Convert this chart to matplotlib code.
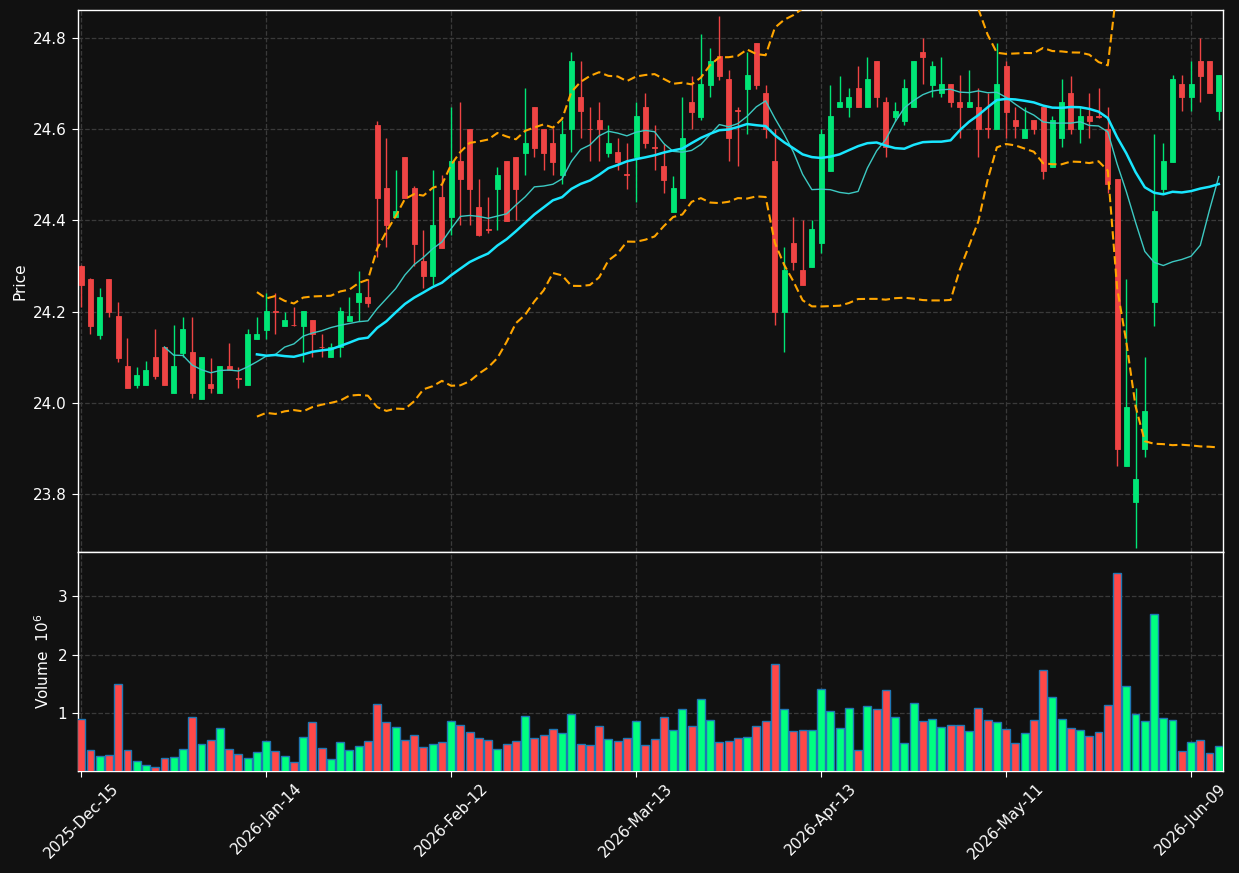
import matplotlib
matplotlib.use("Agg")
import matplotlib.pyplot as plt
import numpy as np
import pandas as pd

# ---------------- data ----------------
opens = [24.300, 24.271, 24.149, 24.271, 24.190, 24.080, 24.039, 24.039, 24.100, 24.123,
         24.020, 24.110, 24.111, 24.009, 24.041, 24.020, 24.080, 24.053, 24.039, 24.140,
         24.160, 24.202, 24.169, 24.171, 24.169, 24.182, 24.122, 24.100, 24.121, 24.180,
         24.220, 24.232, 24.610, 24.471, 24.408, 24.539, 24.471, 24.311, 24.279, 24.451,
         24.408, 24.531, 24.601, 24.430, 24.381, 24.470, 24.531, 24.539, 24.549, 24.649,
         24.601, 24.570, 24.500, 24.600, 24.670, 24.601, 24.620, 24.549, 24.550, 24.501,
         24.539, 24.649, 24.561, 24.520, 24.419, 24.450, 24.659, 24.628, 24.698, 24.760,
         24.711, 24.642, 24.689, 24.790, 24.680, 24.530, 24.200, 24.350, 24.291, 24.298,
         24.350, 24.509, 24.648, 24.648, 24.691, 24.648, 24.750, 24.660, 24.628, 24.619,
         24.648, 24.770, 24.698, 24.679, 24.700, 24.659, 24.648, 24.648, 24.602, 24.600,
         24.739, 24.621, 24.580, 24.621, 24.650, 24.518, 24.580, 24.680, 24.600, 24.629,
         24.629, 24.600, 24.491, 23.860, 23.781, 23.899, 24.220, 24.470, 24.529, 24.700,
         24.670, 24.749, 24.749, 24.640]
highs = [24.302, 24.273, 24.251, 24.272, 24.220, 24.141, 24.079, 24.091, 24.162, 24.123,
         24.170, 24.189, 24.189, 24.100, 24.099, 24.080, 24.130, 24.079, 24.162, 24.189,
         24.240, 24.240, 24.200, 24.209, 24.201, 24.182, 24.150, 24.130, 24.209, 24.231,
         24.290, 24.271, 24.619, 24.580, 24.511, 24.539, 24.475, 24.380, 24.511, 24.500,
         24.648, 24.659, 24.601, 24.490, 24.451, 24.518, 24.531, 24.539, 24.690, 24.649,
         24.601, 24.602, 24.621, 24.769, 24.750, 24.649, 24.659, 24.609, 24.580, 24.569,
         24.659, 24.679, 24.609, 24.568, 24.498, 24.670, 24.718, 24.809, 24.779, 24.849,
         24.730, 24.648, 24.769, 24.790, 24.698, 24.600, 24.341, 24.408, 24.401, 24.401,
         24.600, 24.698, 24.718, 24.690, 24.739, 24.758, 24.750, 24.670, 24.660, 24.711,
         24.750, 24.800, 24.750, 24.758, 24.700, 24.719, 24.730, 24.690, 24.679, 24.789,
         24.749, 24.650, 24.648, 24.621, 24.650, 24.629, 24.711, 24.718, 24.649, 24.679,
         24.690, 24.649, 24.491, 24.271, 24.032, 24.100, 24.590, 24.570, 24.719, 24.719,
         24.749, 24.800, 24.749, 24.719]
lows = [24.209, 24.150, 24.140, 24.189, 24.090, 24.031, 24.031, 24.039, 24.051, 24.039,
        24.020, 24.101, 24.010, 24.009, 24.020, 24.020, 24.072, 24.031, 24.039, 24.140,
        24.140, 24.150, 24.169, 24.169, 24.090, 24.100, 24.100, 24.100, 24.100, 24.180,
        24.180, 24.209, 24.320, 24.342, 24.408, 24.450, 24.299, 24.251, 24.258, 24.340,
        24.368, 24.390, 24.390, 24.365, 24.372, 24.380, 24.399, 24.400, 24.500, 24.539,
        24.511, 24.500, 24.480, 24.550, 24.580, 24.531, 24.531, 24.539, 24.511, 24.470,
        24.440, 24.560, 24.511, 24.460, 24.419, 24.450, 24.600, 24.621, 24.670, 24.708,
        24.530, 24.520, 24.589, 24.689, 24.580, 24.170, 24.111, 24.291, 24.258, 24.298,
        24.328, 24.509, 24.648, 24.628, 24.648, 24.648, 24.648, 24.540, 24.618, 24.610,
        24.648, 24.700, 24.670, 24.670, 24.650, 24.580, 24.648, 24.540, 24.580, 24.600,
        24.580, 24.580, 24.580, 24.589, 24.490, 24.518, 24.561, 24.590, 24.570, 24.580,
        24.625, 24.461, 23.860, 23.860, 23.681, 23.881, 24.169, 24.461, 24.529, 24.640,
        24.640, 24.660, 24.679, 24.620]
closes = [24.259, 24.169, 24.232, 24.200, 24.099, 24.031, 24.061, 24.072, 24.059, 24.039,
          24.080, 24.162, 24.020, 24.100, 24.031, 24.080, 24.072, 24.051, 24.151, 24.151,
          24.201, 24.200, 24.182, 24.170, 24.201, 24.150, 24.121, 24.121, 24.201, 24.190,
          24.240, 24.219, 24.450, 24.389, 24.421, 24.450, 24.349, 24.279, 24.390, 24.340,
          24.531, 24.490, 24.470, 24.368, 24.379, 24.500, 24.399, 24.470, 24.570, 24.560,
          24.549, 24.529, 24.590, 24.750, 24.640, 24.600, 24.600, 24.570, 24.529, 24.500,
          24.629, 24.569, 24.560, 24.489, 24.471, 24.581, 24.639, 24.700, 24.749, 24.718,
          24.580, 24.640, 24.719, 24.698, 24.600, 24.200, 24.291, 24.309, 24.258, 24.381,
          24.590, 24.629, 24.660, 24.671, 24.648, 24.711, 24.670, 24.562, 24.640, 24.691,
          24.750, 24.758, 24.739, 24.700, 24.659, 24.648, 24.659, 24.600, 24.600, 24.700,
          24.639, 24.608, 24.600, 24.600, 24.509, 24.621, 24.660, 24.600, 24.629, 24.619,
          24.628, 24.479, 23.899, 23.990, 23.833, 23.982, 24.421, 24.530, 24.711, 24.670,
          24.700, 24.718, 24.679, 24.719]
volumes_m = [0.909, 0.379, 0.276, 0.293, 1.507, 0.379, 0.191, 0.123, 0.088, 0.242,
             0.259, 0.396, 0.943, 0.482, 0.550, 0.755, 0.396, 0.311, 0.242, 0.345,
             0.533, 0.362, 0.276, 0.174, 0.601, 0.858, 0.413, 0.225, 0.516, 0.379,
             0.447, 0.533, 1.165, 0.858, 0.772, 0.550, 0.636, 0.430, 0.482, 0.516,
             0.875, 0.806, 0.687, 0.584, 0.550, 0.396, 0.482, 0.533, 0.960, 0.584,
             0.636, 0.738, 0.670, 0.994, 0.482, 0.465, 0.789, 0.567, 0.533, 0.584,
             0.875, 0.465, 0.567, 0.943, 0.721, 1.080, 0.789, 1.251, 0.892, 0.516,
             0.533, 0.584, 0.601, 0.789, 0.875, 1.849, 1.080, 0.704, 0.721, 0.721,
             1.422, 1.046, 0.755, 1.097, 0.379, 1.131, 1.080, 1.405, 0.943, 0.499,
             1.183, 0.875, 0.909, 0.772, 0.806, 0.806, 0.704, 1.097, 0.892, 0.858,
             0.738, 0.499, 0.670, 0.892, 1.747, 1.285, 0.909, 0.755, 0.721, 0.618,
             0.687, 1.148, 3.388, 1.473, 0.994, 0.875, 2.687, 0.926, 0.892, 0.362,
             0.516, 0.550, 0.328, 0.447]
tick_labels = ["2025-Dec-15", "2026-Jan-14", "2026-Feb-12", "2026-Mar-13",
               "2026-Apr-13", "2026-May-11", "2026-Jun-09"]
tick_step = 20

# ---------------- style ----------------
BG = "#111111"
UP = "#00e676"
DOWN = "#ef4444"
VUP = "#00ff80"
VDOWN = "#ff4848"
GRID = "#3a3a3a"

o = np.array(opens); h = np.array(highs); l = np.array(lows); c = np.array(closes)
v = np.array(volumes_m)
n = len(c)
x = np.arange(n)
up = c >= o
ccol = np.where(up, UP, DOWN)
vcol = np.where(up, VUP, VDOWN)

cs = pd.Series(c)
ma10 = cs.rolling(10).mean()
ma20 = cs.rolling(20).mean()
sd20 = cs.rolling(20).std(ddof=0)
bb_up = ma20 + 2 * sd20
bb_lo = ma20 - 2 * sd20

fig = plt.figure(figsize=(12.39, 8.73), dpi=100, facecolor=BG)
L, W = 77.5 / 1239, (1222.5 - 77.5) / 1239
axp = fig.add_axes([L, 1 - 552 / 873, W, (552 - 10) / 873])
axv = fig.add_axes([L, 1 - 770.5 / 873, W, (770.5 - 552) / 873], sharex=axp)

for ax in (axp, axv):
    ax.set_facecolor(BG)
    for s in ax.spines.values():
        s.set_color("white")
        s.set_linewidth(1.0)
    ax.tick_params(colors="white", labelsize=11, length=4)
    ax.grid(True, color=GRID, linestyle="--", linewidth=0.9)
    ax.set_axisbelow(True)

# candles
axp.vlines(x, l, h, colors=ccol, linewidth=1.0, zorder=2)
axp.bar(x, np.abs(c - o), bottom=np.minimum(o, c), width=0.55, color=ccol,
        edgecolor=ccol, linewidth=0.6, zorder=3)

# indicators
axp.plot(x, ma10, color="#3cc9c2", linewidth=1.0, zorder=4)
axp.plot(x, ma20, color="#19e6ff", linewidth=1.8, zorder=4)
axp.plot(x, bb_up, color="#ffa500", linewidth=1.5, linestyle=(0, (4, 2)), zorder=4)
axp.plot(x, bb_lo, color="#ffa500", linewidth=1.5, linestyle=(0, (4, 2)), zorder=4)

axp.set_ylim(23.672, 24.862)
axp.set_yticks([23.8, 24.0, 24.2, 24.4, 24.6, 24.8])
axp.set_ylabel("Price", color="white", fontsize=11)
axp.tick_params(axis="x", labelbottom=False)

# volume
axv.bar(x, v, width=0.85, color=vcol, edgecolor="#1f77b4", linewidth=1.0, zorder=3)
axv.set_ylim(0.026, 3.752)
axv.set_yticks([1, 2, 3])
axv.set_ylabel("Volume  $10^{6}$", color="white", fontsize=11)

ticks = list(range(0, n, tick_step))[:len(tick_labels)]
axv.set_xticks(ticks)
axv.set_xticklabels(tick_labels, rotation=45, fontsize=11, color="white")
axv.set_xlim(-0.4, 123.4)

fig.savefig("out.png", dpi=100, facecolor=BG)
